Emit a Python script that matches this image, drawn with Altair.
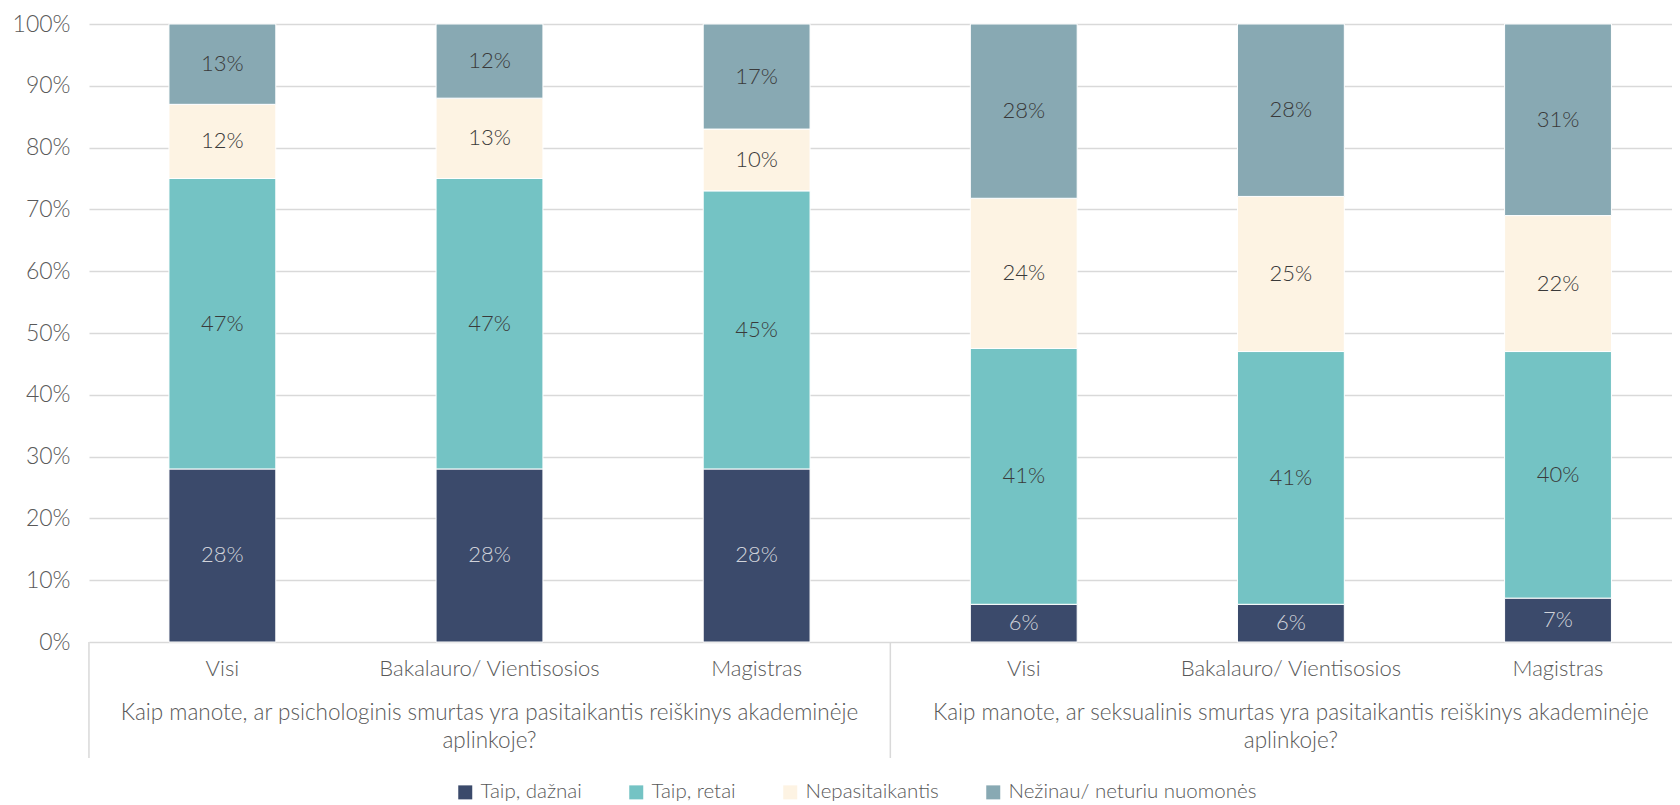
import json
import altair as alt
import pandas as pd

# ---- data -------------------------------------------------------------
group_titles = [
    "Kaip manote, ar psichologinis smurtas yra pasitaikantis reiškinys akademinėje\naplinkoje?",
    "Kaip manote, ar seksualinis smurtas yra pasitaikantis reiškinys akademinėje\naplinkoje?",
]
subcats = ["Visi", "Bakalauro/ Vientisosios", "Magistras"]
series = ["Taip, dažnai", "Taip, retai", "Nepasitaikantis", "Nežinau/ neturiu nuomonės"]
colors = ["#3B4A6B", "#74C3C4", "#FDF3E3", "#88A9B3"]

# values per bar (6 bars: group 1 x 3 subcats, group 2 x 3 subcats)
taip_daznai = [28, 28, 28, 6.1, 6.1, 7.1]
taip_retai = [47, 47, 45, 41.4, 40.9, 39.9]
nepasitaikantis = [12, 13, 10, 24.3, 25.1, 22.0]
nezinau = [13, 12, 17, 28.2, 27.9, 31.0]
y_ticks = [0, 10, 20, 30, 40, 50, 60, 70, 80, 90, 100]

# ---- tables -----------------------------------------------------------
bar_labels = subcats + subcats
rows = []
for i in range(6):
    for s_i, (s, vals) in enumerate(zip(series, [taip_daznai, taip_retai, nepasitaikantis, nezinau])):
        rows.append({"key": i, "series": s, "order": s_i, "value": vals[i]})
df = pd.DataFrame(rows)

sep_df = pd.DataFrame({"key": [0, 3]})
grp_df = pd.DataFrame({"key": [1, 4], "title": group_titles})

FONT = "Lato"
TXT = "#595959"
W, H = 1583, 618

xscale = alt.Scale(domain=list(range(6)), paddingInner=0.6, paddingOuter=0.263, align=0.569)
label_expr = json.dumps(bar_labels, ensure_ascii=False) + "[datum.value]"

base = alt.Chart(df).transform_stack(
    stack="value", groupby=["key"], as_=["y0", "y1"],
    sort=[alt.SortField("order", order="ascending")]
).transform_calculate(
    mid="(datum.y0 + datum.y1) / 2",
    label="format(datum.value, '.0f') + '%'",
)

bars = base.mark_bar(stroke="white", strokeWidth=1).encode(
    x=alt.X("key:O", scale=xscale, title=None,
            axis=alt.Axis(labelExpr=label_expr, labelAngle=0, ticks=False, domain=False,
                          labelPadding=16, labelFont=FONT, labelFontSize=22,
                          labelColor=TXT, grid=False, labelLimit=500)),
    y=alt.Y("y0:Q", scale=alt.Scale(domain=[0, 100], nice=False), title=None,
            axis=alt.Axis(values=y_ticks, labelExpr="datum.value + '%'", ticks=False,
                          domain=False, gridColor="#D9D9D9", gridWidth=1.5,
                          labelFont=FONT, labelFontSize=23, labelColor=TXT,
                          labelPadding=19)),
    y2="y1:Q",
    color=alt.Color("series:N", scale=alt.Scale(domain=series, range=colors),
                    legend=alt.Legend(title=None, orient="none", direction="horizontal",
                                      legendX=366, legendY=758, symbolType="square",
                                      symbolSize=196, symbolStrokeWidth=0,
                                      labelFont=FONT, labelFontSize=20.5, labelFontWeight=300,
                                      labelColor=TXT, labelOffset=5, labelLimit=500,
                                      columnPadding=44, columns=4, padding=0)),
)

text = base.mark_text(font=FONT, fontSize=22, fontWeight=300).encode(
    x=alt.X("key:O", scale=xscale),
    y=alt.Y("mid:Q"),
    text=alt.Text("label:N"),
    color=alt.condition("datum.order == 0", alt.value("#D0D3DA"), alt.value("#3A3A3A")),
)

seps = alt.Chart(sep_df).mark_rule(color="#D9D9D9", strokeWidth=1.5, xOffset=-80).encode(
    x=alt.X("key:O", scale=xscale, bandPosition=0),
    y=alt.value(H),
    y2=alt.value(H + 116),
)

grp = alt.Chart(grp_df).mark_text(font=FONT, fontSize=22.5, fontWeight=300, color=TXT,
                                  lineBreak="\n", lineHeight=28, baseline="top",
                                  align="center").encode(
    x=alt.X("key:O", scale=xscale),
    y=alt.value(H + 60),
    text="title:N",
)

chart = alt.layer(bars, text, seps, grp).properties(
    width=W, height=H,
    autosize=alt.AutoSizeParams(type="none"),
    padding={"left": 81, "top": 16, "right": 0, "bottom": 165},
).configure_view(stroke=None).configure_axis(labelFontWeight=300)

chart.save("out.html", embed_options={"renderer": "svg", "actions": False})
